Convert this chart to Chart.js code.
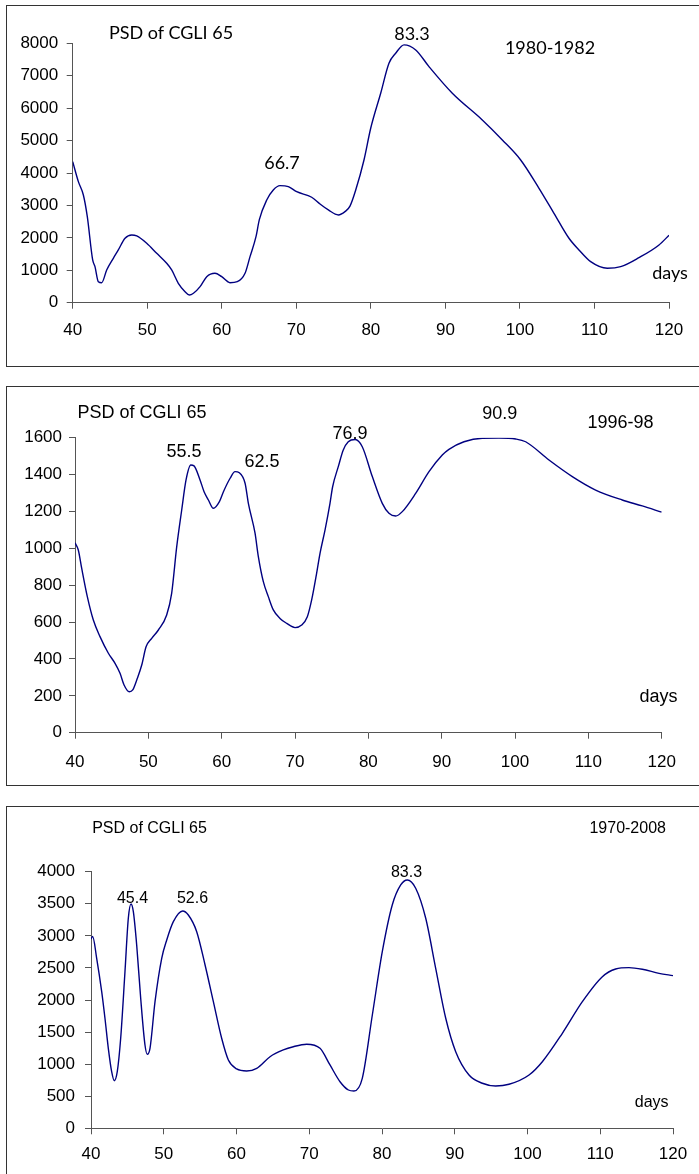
<!DOCTYPE html>
<html><head><meta charset="utf-8">
<script src="https://cdn.jsdelivr.net/npm/chart.js@4.4.0/dist/chart.umd.min.js"></script>
<style>
html,body{margin:0;padding:0;background:#fff;overflow:hidden;width:699px;height:1174px;}
#page{position:relative;width:699px;height:1174px;overflow:hidden;background:#fff;}
.panel{position:absolute;border:1.5px solid #333;box-sizing:border-box;}
canvas{position:absolute;left:0;}
.lbl{position:absolute;transform:translate(-50%,-50%);white-space:nowrap;line-height:1;color:#000;}
</style></head>
<body><div id="page"></div>
<script>
// ---------- DATA ----------
const xTickValues = [40, 50, 60, 70, 80, 90, 100, 110, 120];

// Panel 1: 1980-1982
const days1 = [40, 40.76, 41.43, 41.96, 42.68, 42.99, 43.44, 43.89, 44.56, 45.45, 46.12, 47.02, 47.92, 48.59, 49.93, 51.27, 52.61, 53.28, 54.17, 55.07, 55.65, 56.2, 57.09, 57.98, 59.09, 59.99, 61.1, 62.08, 63.12, 63.79, 64.59, 65.04, 66.03, 66.91, 67.81, 68.93, 70.05, 72.06, 73.18, 74.3, 75.64, 76.53, 77.2, 77.97, 79.08, 79.98, 81.32, 82.43, 83.33, 84.45, 86.02, 87.8, 90.93, 94.95, 97.64, 100.1, 102.56, 104.57, 106.58, 107.92, 109.49, 111.72, 113.52, 115.97, 118.66, 120];
const psd1 = [4350, 3733, 3322, 2654, 1318, 1111, 648, 617, 1009, 1370, 1626, 1987, 2089, 2058, 1832, 1524, 1215, 1009, 598, 339, 237, 290, 494, 802, 906, 802, 617, 648, 906, 1420, 2036, 2560, 3168, 3476, 3610, 3579, 3424, 3252, 3045, 2860, 2706, 2808, 2980, 3476, 4402, 5380, 6460, 7385, 7694, 7950, 7796, 7281, 6460, 5636, 5019, 4402, 3529, 2758, 1987, 1626, 1265, 1061, 1111, 1389, 1780, 2080];
const yTicks1 = [0, 1000, 2000, 3000, 4000, 5000, 6000, 7000, 8000];

// Panel 2: 1996-98
const days2 = [40, 40.45, 40.91, 41.68, 42.5, 43.41, 44.55, 45.46, 46.14, 46.69, 47.41, 47.87, 48.5, 49.1, 49.69, 50.46, 51.37, 52.5, 53.18, 53.87, 54.55, 55.14, 55.78, 56.23, 57.05, 57.6, 58.19, 58.87, 59.69, 60.24, 61.15, 61.82, 62.41, 63.19, 63.64, 64.55, 65, 65.68, 66.36, 67.04, 67.95, 68.87, 70, 70.91, 71.68, 72.27, 72.95, 73.41, 74.09, 74.77, 75.13, 75.9, 76.58, 77.26, 78.2, 79.17, 80.54, 81.9, 82.81, 83.73, 84.63, 86.45, 88.27, 90.08, 90.99, 93.04, 95.54, 97.81, 100.09, 101.45, 104.63, 107.81, 110.99, 114.62, 117.35, 120];
const psd2 = [1030, 991, 892, 738, 611, 521, 431, 376, 322, 259, 222, 232, 295, 367, 466, 512, 557, 638, 756, 1009, 1208, 1371, 1452, 1447, 1371, 1307, 1262, 1217, 1253, 1307, 1380, 1416, 1410, 1353, 1244, 1082, 955, 819, 738, 666, 620, 593, 570, 584, 629, 720, 865, 973, 1099, 1244, 1334, 1443, 1533, 1578, 1590, 1551, 1389, 1244, 1190, 1175, 1199, 1298, 1416, 1506, 1537, 1578, 1597, 1598, 1593, 1578, 1479, 1389, 1316, 1262, 1230, 1196];
const yTicks2 = [0, 200, 400, 600, 800, 1000, 1200, 1400, 1600];

// Panel 3: 1970-2008
const days3 = [40, 40.23, 40.78, 41.47, 41.92, 42.38, 42.84, 43.2, 43.61, 44.08, 44.67, 45.13, 45.5, 45.82, 46.28, 46.83, 47.42, 47.74, 48.11, 48.8, 49.72, 50.41, 51.32, 52.6, 53.38, 54.53, 55.68, 56.82, 57.96, 58.88, 60.02, 61.4, 62.78, 64.61, 66.43, 67.81, 69.64, 71.48, 72.85, 74.23, 75.38, 76.15, 77.29, 78.67, 80.04, 81.41, 82.57, 83.48, 84.63, 86.01, 87.38, 88.76, 90.13, 91.96, 93.79, 95.62, 97.46, 100.21, 102.04, 104.79, 107.54, 110.29, 112.12, 113.95, 115.78, 118.08, 120];
const psd3 = [2950, 2990, 2650, 2130, 1715, 1247, 882, 742, 882, 1403, 2441, 3274, 3497, 3377, 2858, 2027, 1299, 1154, 1247, 1974, 2650, 2936, 3221, 3388, 3325, 3065, 2546, 1974, 1403, 1065, 925, 893, 935, 1116, 1221, 1272, 1310, 1247, 987, 726, 597, 581, 779, 1766, 2753, 3481, 3793, 3871, 3742, 3274, 2494, 1715, 1194, 831, 702, 659, 686, 831, 1038, 1481, 1974, 2363, 2483, 2504, 2479, 2416, 2380];
const yTicks3 = [0, 500, 1000, 1500, 2000, 2500, 3000, 3500, 4000];

// Texts
const chartTitle = 'PSD of CGLI 65';
const periods = ['1980-1982', '1996-98', '1970-2008'];
const peaks1 = ['66.7', '83.3'];
const peaks2 = ['55.5', '62.5', '76.9', '90.9'];
const peaks3 = ['45.4', '52.6', '83.3'];
const xUnit = 'days';

// ---------- LAYOUT ----------
const W = 699;
const panels = [
  { days: days1, psd: psd1, yTicks: yTicks1, top: 0, height: 366,
    area: {left: 72.7, right: 669, top: 43.3, bottom: 302.7}, xH: 40, yPad: 8.5, xPad: 11,
    tickFont: 17,
    border: {left: 6, top: 5, height: 362},
    labels: [[chartTitle,171,32],[peaks1[0],282,162],[peaks1[1],412,33],[periods[0],550,47],[xUnit,670,272]],
    lblFont: '18px Lato' },
  { days: days2, psd: psd2, yTicks: yTicks2, top: 387, height: 398,
    area: {left: 75, right: 661.7, top: 437.7, bottom: 732.7}, xH: 40, yPad: 7, xPad: 13,
    tickFont: 17,
    border: {left: 6, top: 386, height: 400},
    labels: [[chartTitle,142,411.7],[peaks2[0],184,450.7],[peaks2[1],262,460.7],[peaks2[2],350,433],[peaks2[3],499.7,413],[periods[1],620.5,422],[xUnit,658.5,696]],
    lblFont: '18px "Liberation Sans"' },
  { days: days3, psd: psd3, yTicks: yTicks3, top: 807, height: 367,
    area: {left: 91, right: 673, top: 871.7, bottom: 1128.3}, xH: 40, yPad: 10, xPad: 10,
    tickFont: 17,
    border: {left: 6, top: 806, height: 400},
    labels: [[chartTitle,149.5,828],[peaks3[0],132.5,897.7],[peaks3[1],192.5,897.7],[peaks3[2],406.5,872],[periods[2],627.7,828],[xUnit,651.7,1102]],
    lblFont: '16px "Liberation Sans"' }
];

const page = document.getElementById('page');
const axisColor = '#555';

panels.forEach(p => {
  const b = document.createElement('div');
  b.className = 'panel';
  b.style.left = p.border.left + 'px';
  b.style.top = p.border.top + 'px';
  b.style.width = '760px';
  b.style.height = p.border.height + 'px';
  page.appendChild(b);

  const c = document.createElement('canvas');
  c.width = W; c.height = p.height;
  c.style.top = p.top + 'px';
  c.style.width = W + 'px'; c.style.height = p.height + 'px';
  page.appendChild(c);

  const pts = p.days.map((d, i) => ({x: d, y: p.psd[i]}));
  const yMax = p.yTicks[p.yTicks.length - 1];

  new Chart(c.getContext('2d'), {
    type: 'line',
    data: { datasets: [{ data: pts, borderColor: '#000080', borderWidth: 1.4, pointRadius: 0,
      fill: false, cubicInterpolationMode: 'monotone' }] },
    options: {
      responsive: false, animation: false, devicePixelRatio: 1,
      plugins: { legend: {display: false}, tooltip: {enabled: false} },
      layout: { padding: {
        left: 0, top: p.area.top - p.top, right: W - p.area.right,
        bottom: (p.top + p.height) - p.area.bottom - p.xH } },
      scales: {
        x: { type: 'linear', min: xTickValues[0], max: xTickValues[xTickValues.length - 1],
          afterBuildTicks: s => { s.ticks = xTickValues.map(v => ({value: v})); },
          afterFit: s => { s.height = p.xH; },
          grid: { drawOnChartArea: false, drawTicks: true, tickLength: 6, color: axisColor },
          border: { color: axisColor, width: 1 },
          ticks: { color: '#000', padding: p.xPad, maxRotation: 0, callback: v => String(v),
            font: { family: '"Liberation Sans", Arial, sans-serif', size: p.tickFont } } },
        y: { type: 'linear', min: 0, max: yMax,
          afterBuildTicks: s => { s.ticks = p.yTicks.map(v => ({value: v})); },
          afterFit: s => { s.width = p.area.left; },
          grid: { drawOnChartArea: false, drawTicks: true, tickLength: 6, color: axisColor },
          border: { color: axisColor, width: 1 },
          ticks: { color: '#000', padding: p.yPad, callback: v => String(v),
            font: { family: '"Liberation Sans", Arial, sans-serif', size: p.tickFont } } }
      }
    }
  });

  p.labels.forEach(([t, x, y]) => {
    const d = document.createElement('div');
    d.className = 'lbl';
    d.textContent = t;
    d.style.left = x + 'px';
    d.style.top = y + 'px';
    d.style.font = p.lblFont;
    page.appendChild(d);
  });
});
</script>
</body></html>
